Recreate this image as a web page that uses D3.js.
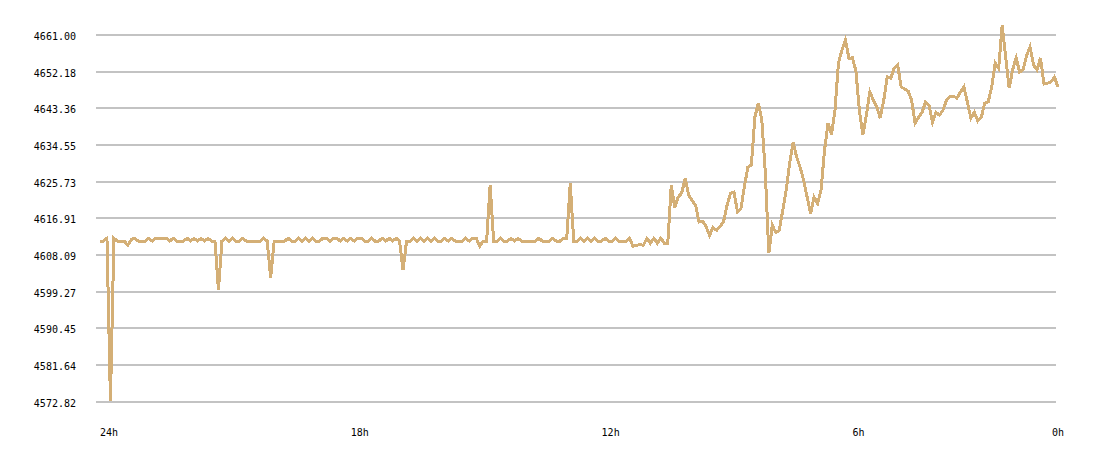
<!DOCTYPE html>
<html>
<head>
<meta charset="utf-8">
<script src="https://cdn.jsdelivr.net/npm/d3@7/dist/d3.min.js"></script>
<style>
  html, body { margin: 0; padding: 0; background: #ffffff; }
  svg { display: block; }
  text { font-family: "DejaVu Sans Mono", "Liberation Mono", monospace; font-size: 10px; fill: #000; }
</style>
</head>
<body>
<svg id="chart" width="1100" height="458"></svg>
<script>
// ---- data ----
const yTickLabels = ["4661.00","4652.18","4643.36","4634.55","4625.73","4616.91","4608.09","4599.27","4590.45","4581.64","4572.82"];
const xTickLabels = ["24h","18h","12h","6h","0h"];
const xTickHours = [24, 18, 12, 6, 0];
const startHoursAgo = 24;      // first sample
const stepHours = 1 / 12;      // 5-minute samples

// price series (flat part, first ~13.7 hours)
const pricesEarly = [
  4611.4,4611.4,4612.1,4573.0,4612.1,4611.4,4611.4,4611.4,4610.4,4611.8,
  4612.1,4611.4,4611.4,4611.4,4612.1,4611.4,4612.1,4612.1,4612.1,4612.1,
  4611.4,4612.1,4611.4,4611.4,4611.4,4612.1,4611.4,4612.1,4611.4,4612.1,
  4611.4,4612.1,4611.4,4611.4,4599.6,4611.4,4612.1,4611.4,4612.1,4611.4,
  4611.4,4612.1,4611.4,4611.4,4611.4,4611.4,4611.4,4612.1,4611.4,4602.6,
  4611.4,4611.4,4611.4,4611.4,4612.1,4611.4,4611.4,4612.1,4611.4,4612.1,
  4611.4,4612.1,4611.4,4611.4,4612.1,4612.1,4611.4,4612.1,4612.1,4611.4,
  4612.1,4611.4,4612.1,4611.4,4612.1,4612.1,4611.4,4611.4,4612.1,4611.4,
  4611.4,4612.1,4611.4,4612.1,4611.4,4612.1,4611.4,4604.4,4611.4,4611.4,
  4612.1,4611.4,4612.1,4611.4,4612.1,4611.4,4612.1,4611.4,4611.4,4612.1,
  4611.4,4612.1,4611.4,4611.4,4611.4,4612.1,4611.4,4612.1,4612.1,4610.2,
  4611.4,4611.4,4624.9,4611.4,4611.4,4612.1,4611.4,4611.4,4612.1,4611.4,
  4612.1,4611.4,4611.4,4611.4,4611.4,4611.4,4612.1,4611.4,4611.4,4611.4,
  4612.1,4611.4,4611.4,4612.1,4612.1,4625.3,4611.4,4611.4,4612.1,4611.4,
  4612.1,4611.4,4612.1,4611.4,4611.4,4612.1,4611.4,4611.4,4612.1,4611.4,
  4611.4,4611.4,4612.1,4610.2,4610.4,4610.6,4610.4,4612.1,4610.9,4612.1,
  4610.9,4612.1,4610.9,4610.9
];
// price series (volatile part, last ~9.3 hours)
const pricesLate = [
  4624.9,4619.5,4622.0,4623.0,4626.6,4622.5,4621.2,4620.0,4616.0,4616.2,
  4614.9,4612.8,4614.7,4614.0,4614.9,4616.0,4620.0,4622.9,4623.2,4618.5,
  4619.2,4624.6,4629.2,4629.7,4641.2,4644.6,4640.5,4627.8,4608.5,4615.2,
  4613.5,4614.0,4618.8,4623.7,4630.2,4635.2,4631.6,4629.2,4626.1,4622.0,
  4618.1,4622.0,4620.5,4623.7,4633.3,4639.8,4637.0,4642.9,4654.3,4657.4,
  4659.8,4655.4,4655.5,4652.4,4642.9,4636.9,4641.7,4647.3,4645.3,4643.7,
  4641.0,4645.3,4650.9,4650.6,4653.0,4653.8,4648.5,4648.0,4647.5,4645.3,
  4639.8,4641.2,4642.4,4644.9,4644.0,4640.0,4642.4,4641.7,4642.9,4645.3,
  4646.1,4646.3,4645.8,4647.3,4648.5,4644.9,4641.0,4642.4,4640.3,4641.2,
  4644.6,4644.9,4648.5,4654.3,4653.0,4663.4,4655.7,4648.2,4652.6,4655.5,
  4652.1,4652.6,4656.0,4658.1,4653.8,4652.6,4655.5,4649.2,4649.4,4649.7,
  4650.9,4648.5
];

const prices = pricesEarly.concat(pricesLate);
const series = prices.map((p, i) => ({ h: startHoursAgo - i * stepHours, p }));

// ---- layout ----
const svg = d3.select("#chart");
const gridLeft = 96, gridRight = 1056;

const x = d3.scaleLinear().domain([24, 0]).range([100, 100 + 24 * 41.8]);
const yMin = +yTickLabels[yTickLabels.length - 1], yMax = +yTickLabels[0];
const y = d3.scaleLinear().domain([yMin, yMax]).range([401.5, 35]);

// gridlines + y labels
const yTicks = yTickLabels.map(s => ({ label: s, v: +s }));
svg.append("g").selectAll("line").data(yTicks).join("line")
  .attr("x1", gridLeft).attr("x2", gridRight)
  .attr("y1", d => Math.round(y(d.v))).attr("y2", d => Math.round(y(d.v)))
  .attr("stroke", "#c3c3c3").attr("stroke-width", 2)
  .attr("shape-rendering", "crispEdges");

svg.append("g").selectAll("text").data(yTicks).join("text")
  .attr("x", 76).attr("y", d => Math.round(y(d.v)) + 5)
  .attr("text-anchor", "end")
  .text(d => d.label);

// x labels
const lastH = series[series.length - 1].h;
svg.append("g").selectAll("text").data(xTickLabels).join("text")
  .attr("x", (d, i) => Math.min(x(xTickHours[i]), x(lastH) - 6))
  .attr("y", 436)
  .attr("text-anchor", "start")
  .text(d => d);

// line
const line = d3.line().x(d => x(d.h)).y(d => y(d.p));
svg.append("path")
  .datum(series)
  .attr("d", line)
  .attr("fill", "none")
  .attr("stroke", "#d4af76")
  .attr("stroke-width", 3)
  .attr("stroke-linejoin", "miter")
  .attr("shape-rendering", "crispEdges");
</script>
</body>
</html>
